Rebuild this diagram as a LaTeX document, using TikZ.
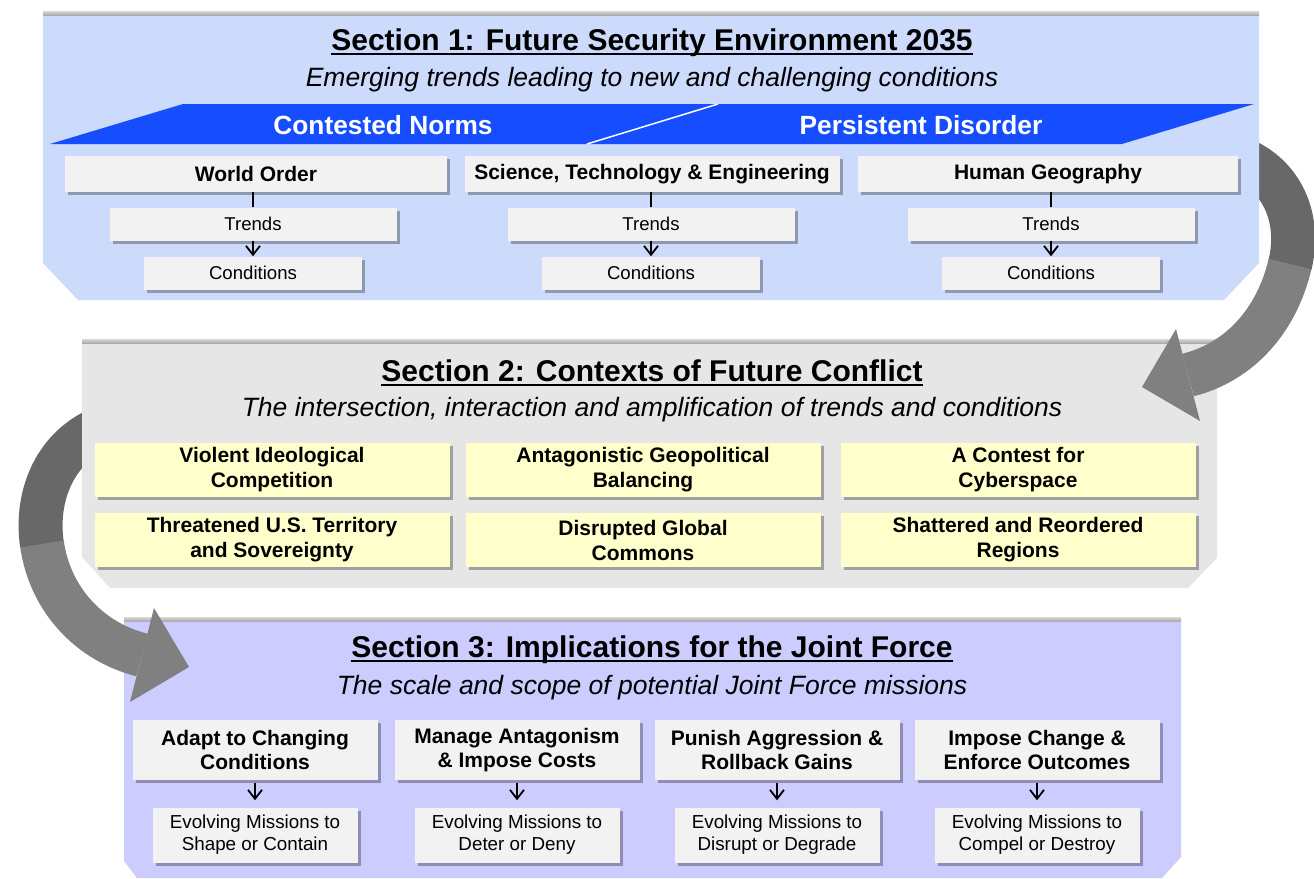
\documentclass[tikz,border=0pt]{standalone}
\usepackage{fontspec}
\setmainfont{Liberation Sans}
\usetikzlibrary{shadows,arrows.meta}

\definecolor{envblue}{RGB}{204,218,251}
\definecolor{ctxgray}{RGB}{230,230,230}
\definecolor{jfviolet}{RGB}{204,204,255}
\definecolor{bandblue}{RGB}{22,78,255}
\definecolor{boxgray}{RGB}{242,242,242}
\definecolor{boxyellow}{RGB}{255,255,204}
\definecolor{arrowgray}{RGB}{128,128,128}
\definecolor{arrowdark}{RGB}{104,104,104}

\begin{document}
\begin{tikzpicture}[x=1pt,y=-1pt,->,>={Straight Barb[length=9pt,width=14pt]}]

    \tikzstyle{title} = [inner xsep=0pt, font=\fontsize{30}{34}\selectfont\bfseries];
    \tikzstyle{subtitle} = [font=\fontsize{26.5}{30}\selectfont\itshape];
    \tikzstyle{band} = [text=white, font=\fontsize{26.3}{30}\selectfont\bfseries];
    \tikzstyle{shadowed} = [drop shadow={shadow xshift=3pt, shadow yshift=-3pt, fill=black, opacity=0.3}];
    \tikzstyle{topic} = [shadowed, fill=boxgray, minimum height=36, font=\fontsize{21}{24}\selectfont\bfseries];
    \tikzstyle{sub} = [shadowed, fill=boxgray, minimum height=33, font=\fontsize{18.6}{22}\selectfont];
    \tikzstyle{context} = [shadowed, fill=boxyellow, minimum width=355, minimum height=54, align=center, font=\fontsize{21}{25}\selectfont\bfseries];
    \tikzstyle{mission} = [shadowed, fill=boxgray, minimum width=245, minimum height=60, align=center, font=\fontsize{21}{24}\selectfont\bfseries];
    \tikzstyle{evolve} = [shadowed, fill=boxgray, minimum width=205, minimum height=55, align=center, font=\fontsize{18.8}{22}\selectfont];
    \tikzstyle{link} = [-, line width=1.8pt];
    \tikzstyle{flow} = [line width=1.8pt];
    \tikzstyle{uline} = [-, line width=1.6pt];

    \useasboundingbox (0,0) rectangle (1314,878);

    % section 3 panel
    \shade[-, top color=gray!30, bottom color=gray!75] (124,617) rectangle (1181,622);
    \fill[jfviolet] (124,622) -- (1181,622) -- (1181,857) -- (1162,878) -- (137,878) -- (124,861) -- cycle;

    % curved arrow from section 2 to section 3
    \draw[-, arrowdark, line width=44pt] (110,425) .. controls (60,440) and (34,490) .. (42,545);
    \draw[-, arrowgray, line width=44pt] (42,544) .. controls (50,600) and (90,642) .. (142,655);
    \fill[arrowgray] (130,702) -- (154,608) -- (189,667) -- cycle;

    % section 2 panel
    \shade[-, top color=gray!30, bottom color=gray!75] (82,339) rectangle (1217,344);
    \fill[ctxgray] (82,344) -- (1217,344) -- (1217,558) -- (1188,588) -- (110,588) -- (82,557) -- cycle;

    % curved arrow from section 1 to section 2
    \draw[-, arrowdark, line width=44pt] (1215,152) .. controls (1275,160) and (1303,210) .. (1290,265);
    \draw[-, arrowgray, line width=44pt] (1290,264) .. controls (1277,320) and (1240,362) .. (1188,375);
    \fill[arrowgray] (1200,421) -- (1176,329) -- (1142,387) -- cycle;

    % section 1 panel
    \shade[-, top color=gray!30, bottom color=gray!75] (43,11) rectangle (1259,16);
    \fill[envblue] (43,16) -- (1259,16) -- (1259,263) -- (1224,300) -- (78,300) -- (43,263) -- cycle;
    \fill[bandblue] (50,144) -- (183,104) -- (1254,104) -- (1122,144) -- cycle;
    \draw[-, white, line width=1.5pt] (587,144) -- (718,104);

    % Section 1
    \node[title] (t1) at (652,43) {Section 1: Future Security Environment 2035};
    \draw[uline] ([yshift=-3pt]t1.base west) -- ([yshift=-3pt]t1.base east);
    \node[subtitle] (s1) at (652,80) {Emerging trends leading to new and challenging conditions};
    \node[band] (cn) at (383,125) {Contested Norms};
    \node[band] (pd) at (921,125) {Persistent Disorder};
    \node[topic, minimum width=382] (c1) at (256,174) {World Order};
    \node[topic, minimum width=375] (c2) at (652,174) {Science, Technology \& Engineering};
    \node[topic, minimum width=380] (c3) at (1048,174) {Human Geography};
    \foreach \i/\x in {1/253,2/651,3/1051} {
        \node[sub, minimum width=287] (tr\i) at (\x,224) {Trends};
        \node[sub, minimum width=218] (co\i) at (\x,273) {Conditions};
        \draw[link] (tr\i.north) -- (tr\i.north |- c\i.south);
        \draw[flow] (tr\i) -- (co\i);
    }

    % Section 2
    \node[title] (t2) at (652,371) {Section 2: Contexts of Future Conflict};
    \draw[uline] ([yshift=-3pt]t2.base west) -- ([yshift=-3pt]t2.base east);
    \node[subtitle] (s2) at (652,410) {The intersection, interaction and amplification of trends and conditions};
    \node[context] (vic) at (272,470) {Violent Ideological\\Competition};
    \node[context] (agb) at (643,470) {Antagonistic Geopolitical\\Balancing};
    \node[context] (ccs) at (1018,470) {A Contest for\\Cyberspace};
    \node[context] (tus) at (272,540) {Threatened U.S. Territory\\and Sovereignty};
    \node[context] (dgc) at (643,540) {Disrupted Global\\Commons};
    \node[context] (srr) at (1018,540) {Shattered and Reordered\\Regions};

    % Section 3
    \node[title] (t3) at (652,650) {Section 3: Implications for the Joint Force};
    \draw[uline] ([yshift=-3pt]t3.base west) -- ([yshift=-3pt]t3.base east);
    \node[subtitle] (s3) at (652,688) {The scale and scope of potential Joint Force missions};
    \node[mission] (m1) at (255,750) {Adapt to Changing\\Conditions};
    \node[mission] (m2) at (517,750) {Manage Antagonism\\\& Impose Costs};
    \node[mission] (m3) at (777,750) {Punish Aggression \&\\Rollback Gains};
    \node[mission] (m4) at (1037,750) {Impose Change \&\\Enforce Outcomes};
    \node[evolve] (e1) at (255,835) {Evolving Missions to\\Shape or Contain};
    \node[evolve] (e2) at (517,835) {Evolving Missions to\\Deter or Deny};
    \node[evolve] (e3) at (777,835) {Evolving Missions to\\Disrupt or Degrade};
    \node[evolve] (e4) at (1037,835) {Evolving Missions to\\Compel or Destroy};
    \foreach \i in {1,...,4}
        \draw[flow, shorten <=3pt, shorten >=7pt] (m\i) -- (e\i);

\end{tikzpicture}
\end{document}
